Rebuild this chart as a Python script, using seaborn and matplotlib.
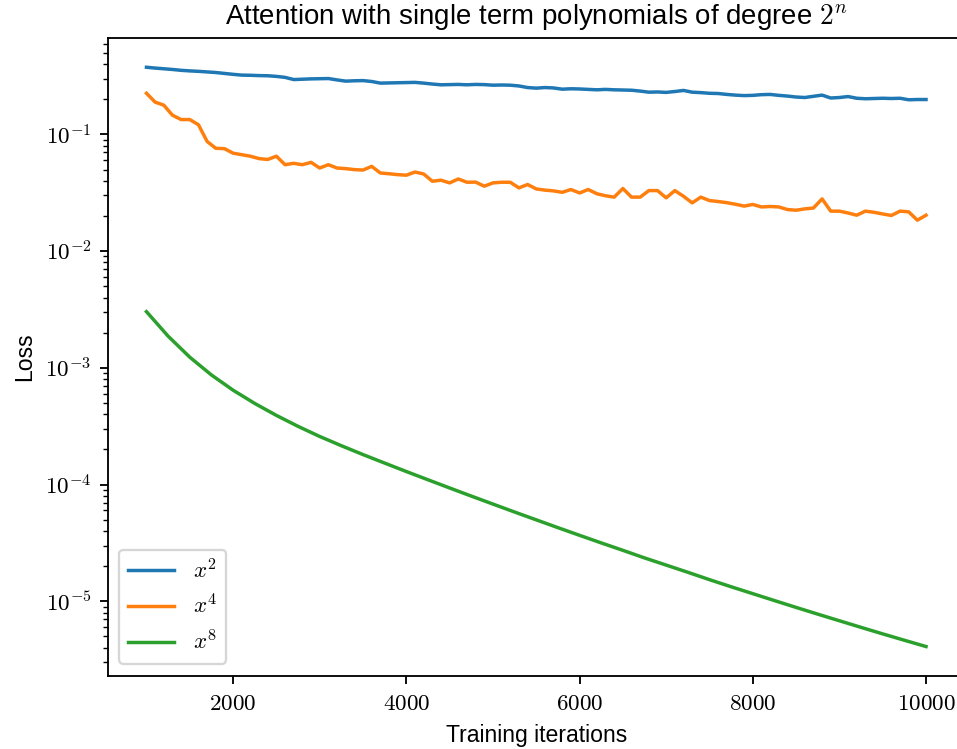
import matplotlib
matplotlib.use("Agg")
import matplotlib.pyplot as plt
from matplotlib.ticker import FuncFormatter, NullFormatter
import numpy as np
import pandas as pd
import seaborn as sns

# Training checkpoints (every 100 iterations) for the x^2 and x^4 runs
iters = list(range(1000, 10001, 100))

loss_x2 = [
    0.376, 0.370, 0.365, 0.360, 0.354, 0.350, 0.347, 0.343, 0.339, 0.333,
    0.327, 0.322, 0.321, 0.319, 0.318, 0.314, 0.308, 0.295, 0.297, 0.299,
    0.300, 0.301, 0.293, 0.286, 0.288, 0.289, 0.284, 0.275, 0.276, 0.277,
    0.278, 0.279, 0.275, 0.270, 0.266, 0.267, 0.268, 0.266, 0.268, 0.267,
    0.264, 0.265, 0.264, 0.260, 0.252, 0.249, 0.252, 0.250, 0.244, 0.246,
    0.245, 0.243, 0.241, 0.243, 0.241, 0.240, 0.239, 0.235, 0.230, 0.231,
    0.229, 0.233, 0.238, 0.230, 0.228, 0.225, 0.224, 0.220, 0.217, 0.215,
    0.216, 0.219, 0.220, 0.216, 0.213, 0.209, 0.207, 0.212, 0.217, 0.205,
    0.207, 0.211, 0.204, 0.202, 0.203, 0.204, 0.203, 0.204, 0.198, 0.199,
    0.199,
]

loss_x4 = [
    0.225, 0.189, 0.178, 0.146, 0.134, 0.134, 0.121, 0.087, 0.076, 0.0755,
    0.0690, 0.0670, 0.0650, 0.0620, 0.0610, 0.0650, 0.0550, 0.0565, 0.0550, 0.0576,
    0.0515, 0.0550, 0.0515, 0.0509, 0.0499, 0.0495, 0.0532, 0.0467, 0.0460, 0.0452,
    0.0447, 0.0476, 0.0458, 0.0397, 0.0405, 0.0384, 0.0415, 0.0389, 0.0390, 0.0360,
    0.0384, 0.0389, 0.0389, 0.0348, 0.0372, 0.0341, 0.0333, 0.0328, 0.0319, 0.0337,
    0.0315, 0.0337, 0.0310, 0.0298, 0.0290, 0.0344, 0.0290, 0.0290, 0.0330, 0.0330,
    0.0286, 0.0330, 0.0295, 0.0259, 0.0290, 0.0271, 0.0266, 0.0260, 0.0252, 0.0243,
    0.0251, 0.0239, 0.0241, 0.0239, 0.0227, 0.0224, 0.0230, 0.0234, 0.0280, 0.0220,
    0.0220, 0.0212, 0.0203, 0.0220, 0.0215, 0.0208, 0.0202, 0.0220, 0.0217, 0.0184,
    0.0203,
]

# The x^8 run decreases smoothly; logged every 250 iterations
iters_x8 = list(range(1000, 10001, 250))
loss_x8 = [
    3.027e-3, 1.866e-3, 1.233e-3, 8.68e-4, 6.43e-4, 4.95e-4, 3.91e-4, 3.15e-4,
    2.58e-4, 2.15e-4, 1.805e-4, 1.526e-4, 1.292e-4, 1.098e-4, 9.34e-5, 7.96e-5,
    6.80e-5, 5.81e-5, 4.98e-5, 4.27e-5, 3.67e-5, 3.16e-5, 2.73e-5, 2.35e-5,
    2.04e-5, 1.77e-5, 1.53e-5, 1.33e-5, 1.161e-5, 1.013e-5, 8.85e-6, 7.75e-6,
    6.80e-6, 5.97e-6, 5.25e-6, 4.63e-6, 4.09e-6,
]

labels = [r"$x^2$", r"$x^4$", r"$x^8$"]
colors = ["#1f77b4", "#ff7f0e", "#2ca02c"]

plt.rcParams["font.family"] = ["Liberation Sans", "DejaVu Sans"]
plt.rcParams["mathtext.fontset"] = "cm"

W, H, DPI = 957, 749, 166
fig = plt.figure(figsize=(W / DPI, H / DPI), dpi=DPI)
ax = fig.add_axes([107.5 / W, 73.5 / H, (965 - 107.5) / W, (675.5 - 38.3) / H])

series = [
    (iters, loss_x2),
    (iters, loss_x4),
    (iters_x8, loss_x8),
]
for (xs, ys), lab, col in zip(series, labels, colors):
    df = pd.DataFrame({"iteration": xs, "loss": ys})
    sns.lineplot(data=df, x="iteration", y="loss", ax=ax, color=col,
                 label=lab, estimator=None, linewidth=1.5)

ax.set_yscale("log")
ax.xaxis.set_major_formatter(FuncFormatter(lambda v, p: rf"${int(v)}$"))


def log_label(v, p):
    e = int(np.round(np.log10(v)))
    return rf"$10^{{{e}}}$"


ax.yaxis.set_major_formatter(FuncFormatter(log_label))
ax.yaxis.set_minor_formatter(NullFormatter())

ax.set_title(r"Attention with single term polynomials of degree $2^n$", fontsize=12)
ax.set_xlabel("Training iterations", fontsize=10)
ax.set_ylabel("Loss", fontsize=10)
ax.legend(loc="lower left", fontsize=10)

fig.savefig("out.png", dpi=DPI)
